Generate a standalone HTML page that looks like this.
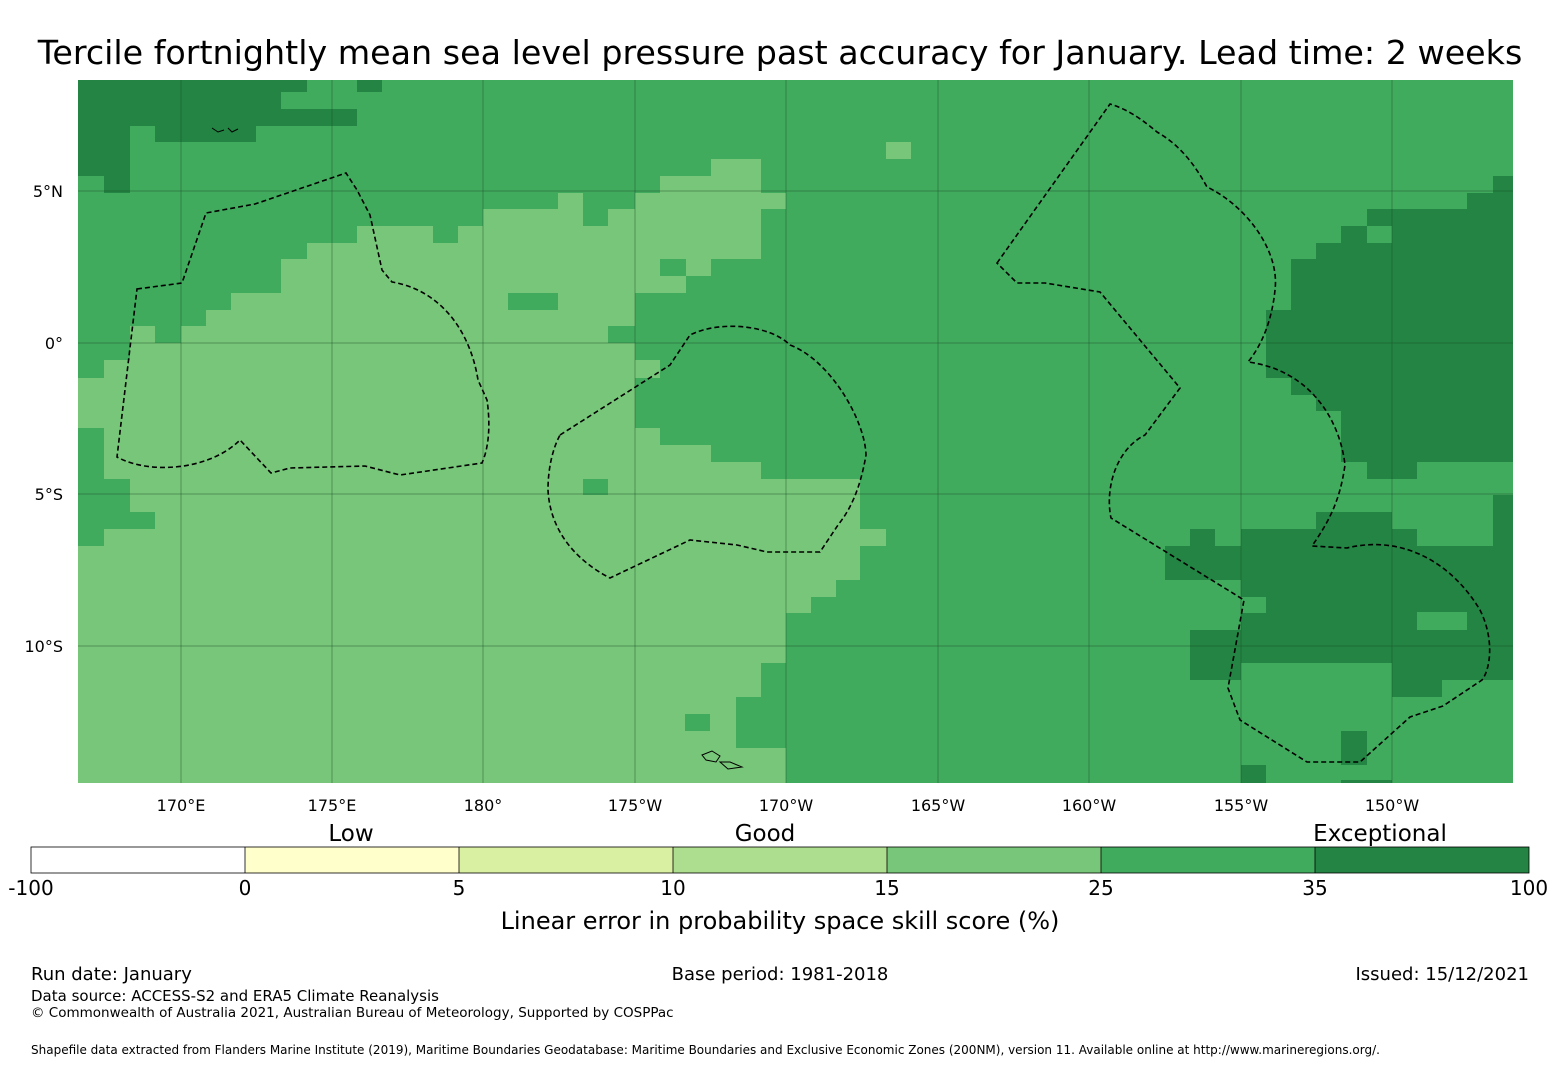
<!DOCTYPE html>
<html><head><meta charset="utf-8"><style>
body{margin:0;background:#fff;width:1560px;height:1065px;overflow:hidden;font-family:"Liberation Sans","DejaVu Sans",sans-serif;}
svg text{font-family:"DejaVu Sans","Liberation Sans",sans-serif;}
</style></head><body>
<svg width="1560" height="1065" xmlns="http://www.w3.org/2000/svg">
<text x="780" y="64" font-size="33.3" text-anchor="middle">Tercile fortnightly mean sea level pressure past accuracy for January. Lead time: 2 weeks</text>
<defs><clipPath id="c"><rect x="78" y="80" width="1435" height="703"/></clipPath></defs>
<g clip-path="url(#c)">
<rect x="78" y="80" width="1435" height="703" fill="#41ab5d"/>
<path fill="#78c679" d="M78,378 L104,378 L104,360 L130,360 L130,326 L155,326 L155,343 L181,343 L181,326 L206,326 L206,310 L231,310 L231,293 L281,293 L281,259 L307,259 L307,243 L332,243 L332,243 L357,243 L357,226 L458,226 L458,226 L483,226 L483,209 L558,209 L558,193 L583,193 L583,226 L608,226 L608,209 L635,209 L635,193 L660,193 L660,176 L711,176 L711,159 L761,159 L761,193 L786,193 L786,209 L761,209 L761,259 L711,259 L711,276 L686,276 L686,293 L635,293 L635,326 L608,326 L608,343 L635,343 L635,360 L660,360 L660,378 L635,378 L635,428 L660,428 L660,445 L711,445 L711,462 L761,462 L761,479 L860,479 L860,529 L886,529 L886,546 L860,546 L860,580 L836,580 L836,597 L811,597 L811,613 L786,613 L786,663 L761,663 L761,697 L736,697 L736,748 L786,748 L786,783 L78,783 Z"/>
<rect x="886" y="142" width="25" height="17" fill="#78c679"/>
<g fill="#41ab5d">
<rect x="583" y="479" width="25" height="16"/>
<rect x="508" y="293" width="50" height="17"/>
<rect x="433" y="226" width="25" height="17"/>
<rect x="660" y="259" width="26" height="17"/>
<rect x="685" y="714" width="25" height="17"/>
<rect x="78" y="428" width="26" height="118"/>
<rect x="104" y="479" width="26" height="50"/>
<rect x="104" y="512" width="51" height="17"/>
</g>
<g fill="#238443">
<path d="M78,80 L307,80 L307,92 L281,92 L281,109 L357,109 L357,126 L256,126 L256,142 L155,142 L155,126 L130,126 L130,176 L130,193 L104,193 L104,176 L78,176 Z"/>
<rect x="357" y="80" width="25" height="12"/>
<path d="M1493,176 L1513,176 L1513,462 L1417,462 L1417,479 L1367,479 L1367,462 L1341,462 L1341,411 L1316,411 L1316,395 L1291,395 L1291,378 L1266,378 L1266,310 L1291,310 L1291,259 L1316,259 L1316,243 L1341,243 L1341,226 L1367,226 L1367,209 L1467,209 L1467,193 L1493,193 Z"/>
<path d="M1316,512 L1392,512 L1392,529 L1417,529 L1417,546 L1493,546 L1493,495 L1513,495 L1513,680 L1442,680 L1442,697 L1392,697 L1392,663 L1241,663 L1241,680 L1190,680 L1190,630 L1241,630 L1241,580 L1165,580 L1165,546 L1190,546 L1190,529 L1215,529 L1215,546 L1241,546 L1241,529 L1316,529 Z"/>
<rect x="1341" y="731" width="26" height="34"/>
<rect x="1241" y="765" width="25" height="18"/>
<rect x="1341" y="780" width="51" height="3"/>
</g>
<g fill="#41ab5d">
<rect x="1367" y="226" width="25" height="17"/>
<rect x="1417" y="612" width="50" height="18"/>
<rect x="1241" y="597" width="25" height="16"/>
</g>
<g stroke="#1a4d2a" stroke-opacity="0.45" stroke-width="1">
<line x1="181" y1="80" x2="181" y2="783"/><line x1="332" y1="80" x2="332" y2="783"/><line x1="483" y1="80" x2="483" y2="783"/><line x1="635" y1="80" x2="635" y2="783"/><line x1="786" y1="80" x2="786" y2="783"/><line x1="938" y1="80" x2="938" y2="783"/><line x1="1089" y1="80" x2="1089" y2="783"/><line x1="1241" y1="80" x2="1241" y2="783"/><line x1="1392" y1="80" x2="1392" y2="783"/>
<line x1="78" y1="191" x2="1513" y2="191"/><line x1="78" y1="343" x2="1513" y2="343"/><line x1="78" y1="494" x2="1513" y2="494"/><line x1="78" y1="646" x2="1513" y2="646"/>
</g>
<g fill="none" stroke="#000" stroke-width="1.6" stroke-dasharray="5,3">
<path d="M137,289 L182,283 L206,213 L255,204 L346,173 L357,190 L370,215 L382,270 L392,282 C440,290 470,330 478,380 L487,400 C490,420 490,445 482,463 L400,475 L365,466 L290,468 L271,473 L240,440 C210,470 150,475 117,457 Z"/>
<path d="M560,435 L670,365 L690,335 C720,320 770,325 790,345 C830,360 865,420 866,455 C860,490 850,510 838,525 L820,552 L767,552 L737,545 L690,540 L610,578 C575,560 550,530 548,490 C548,470 552,450 560,435 Z"/>
<path d="M997,263 L1110,104 C1130,110 1145,122 1157,132 C1180,145 1195,165 1207,187 C1245,205 1280,250 1275,290 C1272,320 1262,345 1248,362 C1310,370 1340,420 1345,465 C1340,500 1330,520 1312,546 L1347,548 C1400,535 1450,560 1480,610 C1495,640 1490,670 1482,680 L1443,706 L1410,717 L1360,762 L1307,762 L1240,720 L1228,688 L1244,600 L1111,518 C1105,490 1115,450 1145,435 L1180,388 L1140,340 L1100,292 L1045,283 L1017,283 Z"/>
</g>
<g fill="none" stroke="#000" stroke-width="1">
<path d="M702,755 l10,-4 8,5 -4,6 -10,-2z M720,762 l10,0 12,5 -14,2z"/>
<path d="M212,128 l6,4 6,-2 M228,128 l4,4 6,-3"/>
</g>
</g>
<g font-size="16" text-anchor="end">
<text x="63" y="197">5°N</text><text x="63" y="349">0°</text><text x="63" y="500">5°S</text><text x="63" y="652">10°S</text>
</g>
<g font-size="16" text-anchor="middle">
<text x="181" y="811">170°E</text><text x="332" y="811">175°E</text><text x="483" y="811">180°</text><text x="635" y="811">175°W</text><text x="786" y="811">170°W</text><text x="938" y="811">165°W</text><text x="1089" y="811">160°W</text><text x="1241" y="811">155°W</text><text x="1392" y="811">150°W</text>
</g>
<g font-size="23" text-anchor="middle">
<text x="351" y="841">Low</text><text x="765" y="841">Good</text><text x="1380" y="841">Exceptional</text>
</g>
<rect x="31" y="847" width="214" height="26" fill="#ffffff"/>
<rect x="245" y="847" width="214" height="26" fill="#ffffcc"/>
<rect x="459" y="847" width="214" height="26" fill="#d9f0a3"/>
<rect x="673" y="847" width="214" height="26" fill="#addd8e"/>
<rect x="887" y="847" width="214" height="26" fill="#78c679"/>
<rect x="1101" y="847" width="214" height="26" fill="#41ab5d"/>
<rect x="1315" y="847" width="214" height="26" fill="#238443"/>
<g stroke="#000" stroke-width="0.8" fill="none"><rect x="31" y="847" width="1498" height="26"/>
<line x1="245" y1="847" x2="245" y2="873"/><line x1="459" y1="847" x2="459" y2="873"/><line x1="673" y1="847" x2="673" y2="873"/><line x1="887" y1="847" x2="887" y2="873"/><line x1="1101" y1="847" x2="1101" y2="873"/><line x1="1315" y1="847" x2="1315" y2="873"/></g>
<g font-size="20" text-anchor="middle">
<text x="31" y="895">-100</text><text x="245" y="895">0</text><text x="459" y="895">5</text><text x="673" y="895">10</text><text x="887" y="895">15</text><text x="1101" y="895">25</text><text x="1315" y="895">35</text><text x="1529" y="895">100</text>
</g>
<text x="780" y="929" font-size="24" text-anchor="middle">Linear error in probability space skill score (%)</text>
<text x="31" y="980" font-size="18">Run date: January</text>
<text x="780" y="980" font-size="18" text-anchor="middle">Base period: 1981-2018</text>
<text x="1529" y="980" font-size="18" text-anchor="end">Issued: 15/12/2021</text>
<text x="31" y="1001" font-size="15">Data source: ACCESS-S2 and ERA5 Climate Reanalysis</text>
<text x="31" y="1017" font-size="13.5">© Commonwealth of Australia 2021, Australian Bureau of Meteorology, Supported by COSPPac</text>
<text x="31" y="1054" font-size="12">Shapefile data extracted from Flanders Marine Institute (2019), Maritime Boundaries Geodatabase: Maritime Boundaries and Exclusive Economic Zones (200NM), version 11. Available online at http://www.marineregions.org/.</text>
</svg>
</body></html>
